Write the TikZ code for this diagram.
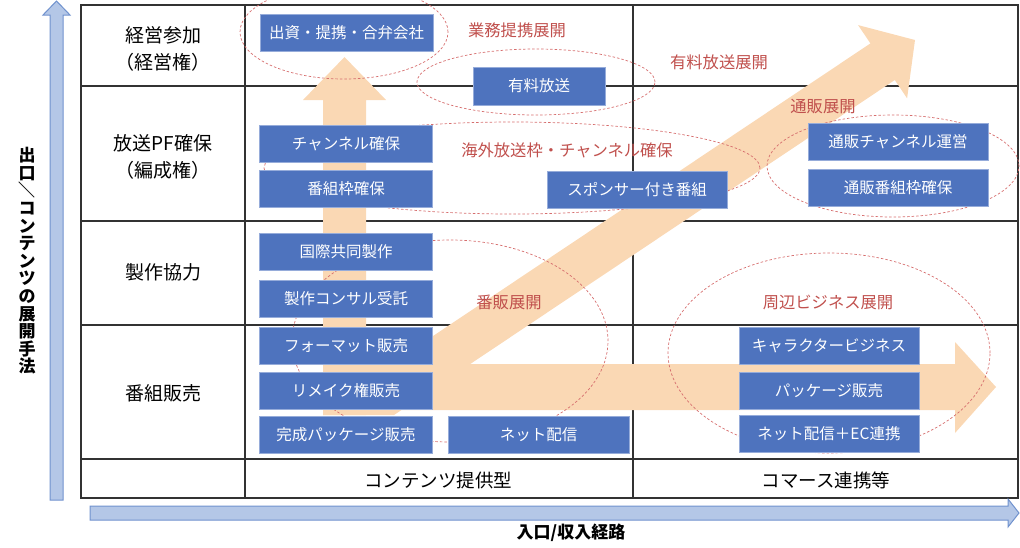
\documentclass[tikz,border=0pt]{standalone}
\usepackage{fontspec}
\setmainfont{Noto Sans CJK JP}
\usetikzlibrary{shapes.geometric}
\definecolor{peach}{RGB}{250,216,180}
\definecolor{boxblue}{RGB}{78,115,190}
\definecolor{boxedge}{RGB}{150,172,218}
\definecolor{dashred}{RGB}{214,110,110}
\definecolor{labred}{RGB}{192,80,77}
\definecolor{axfill}{RGB}{180,199,231}
\definecolor{axedge}{RGB}{112,146,206}
\definecolor{gridc}{RGB}{50,50,50}
\tikzset{
  bbox/.style={fill=boxblue, draw=boxedge, line width=0.8pt, text=white,
    font=\fontsize{15.5}{18}\selectfont, minimum width=173pt, minimum height=37pt, inner sep=0pt},
  wbox/.style={bbox, minimum width=180pt},
  rowlab/.style={align=center, font=\fontsize{19}{27}\selectfont, inner sep=0pt},
  collab/.style={font=\fontsize{18.5}{22}\selectfont, inner sep=0pt},
  redlab/.style={text=labred, font=\fontsize{16.3}{20}\selectfont, inner sep=0pt},
  dashell/.style={ellipse, draw=dashred, dash pattern=on 2.5pt off 2pt, line width=0.7pt, inner sep=0pt},
  gridline/.style={draw=gridc, line width=1.3pt},
  peachfill/.style={fill=peach, draw=none},
  axarrow/.style={fill=axfill, draw=axedge, line width=1pt},
  axlab/.style={font=\bfseries\fontsize{17}{17.6}\selectfont, inner sep=0pt, align=center},
}
\begin{document}
\begin{tikzpicture}[x=1pt,y=-1pt]
\useasboundingbox (0,0) rectangle (1020,547);
% grid
\draw[gridline] (81,5) rectangle (1018,498);
\draw[gridline] (245,5) -- (245,498);
\draw[gridline] (633,5) -- (633,498);
\foreach \yy in {86,221,325,459} \draw[gridline] (81,\yy) -- (1018,\yy);
% axis arrows
\draw[axarrow] (50,500) -- (50,15) -- (43,15) -- (56.5,1) -- (70,15) -- (63,15) -- (63,500) -- cycle;
\draw[axarrow] (90,506) -- (1008,506) -- (1008,499) -- (1019,513) -- (1008,527) -- (1008,520) -- (90,520) -- cycle;
% peach arrows
\fill[peachfill] (323,415) -- (323,100) -- (303,100) -- (344.5,57) -- (386,100) -- (366,100) -- (366,415) -- cycle;
\fill[peachfill] (323,364) -- (955,364) -- (955,342) -- (996,387) -- (955,433) -- (955,410) -- (323,410) -- cycle;
\fill[peachfill] (323,415) -- (323,409.6) -- (870.4,43.4) -- (858.1,25.1) -- (915,40) -- (907.1,98.3) -- (894.8,80) -- (394,415) -- cycle;
% dashed ellipses
\node[dashell, minimum width=208pt, minimum height=94pt] (e1) at (344,32) {};
\node[dashell, minimum width=238pt, minimum height=66pt] (e2) at (536,82) {};
\node[dashell, minimum width=496pt, minimum height=92pt] (e3) at (512,168) {};
\node[dashell, minimum width=252pt, minimum height=102pt] (e4) at (893,166) {};
\node[dashell, minimum width=316pt, minimum height=202pt] (e5) at (450,341) {};
\node[dashell, minimum width=322pt, minimum height=200pt] (e6) at (829,353) {};
% red labels
\node[redlab] (l1) at (517,30) {業務提携展開};
\node[redlab] (l2) at (719,62) {有料放送展開};
\node[redlab] (l3) at (567,150) {海外放送枠・チャンネル確保};
\node[redlab] (l4) at (823,107) {通販展開};
\node[redlab] (l5) at (509,302) {番販展開};
\node[redlab] (l6) at (828,302) {周辺ビジネス展開};
% blue boxes
\node[bbox] (b1) at (346.5,32.5) {出資・提携・合弁会社};
\node[bbox, minimum width=132pt, minimum height=38pt] (b2) at (539,86) {有料放送};
\node[bbox] (b3) at (346,143.5) {チャンネル確保};
\node[bbox] (b4) at (346,188.5) {番組枠確保};
\node[wbox] (b5) at (637,189.5) {スポンサー付き番組};
\node[wbox] (b6) at (898,141.5) {通販チャンネル運営};
\node[wbox] (b7) at (898,188) {通販番組枠確保};
\node[bbox] (b8) at (346,252) {国際共同製作};
\node[bbox] (b9) at (346,299) {製作コンサル受託};
\node[bbox] (b10) at (346,345.5) {フォーマット販売};
\node[bbox] (b11) at (346,391) {リメイク権販売};
\node[bbox] (b12) at (346,434.5) {完成パッケージ販売};
\node[wbox, minimum width=181pt] (b13) at (538.5,434.5) {ネット配信};
\node[wbox] (b14) at (829,346) {キャラクタービジネス};
\node[wbox] (b15) at (829,391) {パッケージ販売};
\node[wbox] (b16) at (829,433.5) {ネット配信＋EC連携};
% row labels
\node[rowlab] (r1) at (163,48.5) {経営参加\\\hspace*{-0.45em}（経営権）\hspace*{-0.45em}};
\node[rowlab] (r2) at (163,156.5) {放送PF確保\\\hspace*{-0.45em}（編成権）\hspace*{-0.45em}};
\node[rowlab] (r3) at (163,272) {製作協力};
\node[rowlab] (r4) at (163,393) {番組販売};
% column labels
\node[collab] (c1) at (438,480) {コンテンツ提供型};
\node[collab] (c2) at (826,480) {コマース連携等};
% axis labels
\node[axlab] (ay) at (27,261) {出\\口\\\rotatebox[origin=c]{-90}{／}\\コ\\ン\\テ\\ン\\ツ\\の\\展\\開\\手\\法};
\node[axlab] (ax) at (571,533) {入口/収入経路};
\end{tikzpicture}
\end{document}
